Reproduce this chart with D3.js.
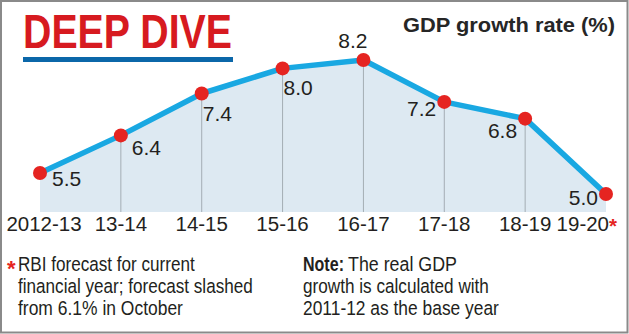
<!DOCTYPE html>
<html>
<head>
<meta charset="utf-8">
<script src="https://cdn.jsdelivr.net/npm/d3@7/dist/d3.min.js"></script>
<style>
  html, body { margin: 0; padding: 0; background: #fff; }
  svg { display: block; }
  text { font-family: "Liberation Sans", Arial, Helvetica, sans-serif; fill: #231f20; }
</style>
</head>
<body>
<svg id="chart" width="629" height="334"></svg>
<script>
// ---- data ----
const categories = ["2012-13", "13-14", "14-15", "15-16", "16-17", "17-18", "18-19", "19-20"];
const gdpGrowth = [5.5, 6.4, 7.4, 8.0, 8.2, 7.2, 6.8, 5.0];
const valueLabels = ["5.5", "6.4", "7.4", "8.0", "8.2", "7.2", "6.8", "5.0"];
const labelPlacement = ["below-right", "below-right", "below", "below", "above", "left", "below-left", "left"];
const forecastFlag = [false, false, false, false, false, false, false, true];
const titleText = "DEEP DIVE";
const subtitleText = "GDP growth rate (%)";
const footLeft = ["RBI forecast for current", "financial year; forecast slashed", "from 6.1% in October"];
const noteLabel = "Note:";
const footRight = ["The real GDP", "growth is calculated with", "2011-12 as the base year"];

// ---- layout ----
const W = 629, H = 334;
const svg = d3.select("#chart");
const plotBottom = 212;

const x = d3.scalePoint().domain(categories).range([40, 606]);
const y = d3.scaleLinear().domain([5.0, 8.2]).range([194, 60]);

const data = categories.map((c, i) => ({ c, v: gdpGrowth[i], label: valueLabels[i], pos: labelPlacement[i], star: forecastFlag[i], i }));

// frame
svg.append("rect").attr("x", 1).attr("y", 1).attr("width", W - 2.5).attr("height", H - 2.5)
  .attr("fill", "#fff").attr("stroke", "#8a8a8a").attr("stroke-width", 2);

// area
const area = d3.area().x(d => x(d.c)).y0(plotBottom).y1(d => y(d.v));
svg.append("path").datum(data).attr("d", area).attr("fill", "#dde9f2");

// vertical guide lines for interior points
svg.selectAll("line.grid").data(data.slice(1, -1)).join("line")
  .attr("class", "grid")
  .attr("x1", d => x(d.c)).attr("x2", d => x(d.c))
  .attr("y1", d => y(d.v)).attr("y2", plotBottom)
  .attr("stroke", "#a4adb4").attr("stroke-width", 1);

// line
const line = d3.line().x(d => x(d.c)).y(d => y(d.v));
svg.append("path").datum(data).attr("d", line)
  .attr("fill", "none").attr("stroke", "#19a8e2").attr("stroke-width", 5.5)
  .attr("stroke-linejoin", "round");

// dots
svg.selectAll("circle.dot").data(data).join("circle")
  .attr("class", "dot")
  .attr("cx", d => x(d.c)).attr("cy", d => y(d.v)).attr("r", 7)
  .attr("fill", "#e52421");

// value labels
const offsets = {
  "below-right": { dx: 11, dy: 20, anchor: "start" },
  "below": { dx: 1, dy: 27, anchor: "start" },
  "above": { dx: 4, dy: -12, anchor: "end" },
  "left": { dx: -8, dy: 14, anchor: "end" },
  "below-left": { dx: -8, dy: 19, anchor: "end" }
};
svg.selectAll("text.val").data(data).join("text")
  .attr("class", "val")
  .attr("x", d => x(d.c) + offsets[d.pos].dx + (d.i === 0 ? 1 : 0))
  .attr("y", d => y(d.v) + offsets[d.pos].dy - (d.i === 0 ? 7 : 0) + (d.i === 7 ? -3 : 0))
  .attr("text-anchor", d => offsets[d.pos].anchor)
  .attr("font-size", 21)
  .text(d => d.label);

// category axis labels
const axisLabels = svg.selectAll("text.cat").data(data).join("text")
  .attr("class", "cat")
  .attr("x", d => d.star ? x(d.c) + 11 : x(d.c) + (d.i === 0 ? 4 : 0))
  .attr("y", 231)
  .attr("text-anchor", d => d.star ? "end" : "middle")
  .attr("font-size", 20.5);
axisLabels.append("tspan").text(d => d.c);
axisLabels.filter(d => d.star).append("tspan")
  .style("fill", "#e52421").attr("font-weight", "bold").attr("dy", 2)
  .text("*");

// title
svg.append("text").attr("x", 23).attr("y", 48)
  .attr("font-size", 49).attr("font-weight", "bold")
  .style("fill", "#d71a20")
  .attr("textLength", 209).attr("lengthAdjust", "spacingAndGlyphs")
  .text(titleText);
svg.append("rect").attr("x", 23).attr("y", 57).attr("width", 210).attr("height", 5).attr("fill", "#0b67a9");

// subtitle
svg.append("text").attr("x", 615).attr("y", 32).attr("text-anchor", "end")
  .attr("font-size", 21).attr("font-weight", "bold").style("fill", "#262626")
  .attr("textLength", 212).attr("lengthAdjust", "spacingAndGlyphs")
  .text(subtitleText);

// footnotes: each line horizontally condensed to its measured width via a transform
const footSize = 19.5;
function fitLine(str, x0, yb, width, bold) {
  const t = svg.append("text").attr("x", 0).attr("y", 0)
    .attr("font-size", footSize).attr("font-weight", bold ? "bold" : null).text(str);
  const natural = t.node().getComputedTextLength();
  t.attr("transform", `translate(${x0},${yb}) scale(${width / natural},1)`);
  return t;
}
const footBaselines = [271, 293, 315];
const leftWidths = [177, 235, 165];
svg.append("text").attr("x", 7).attr("y", 276).attr("font-size", 22).attr("font-weight", "bold")
  .style("fill", "#e52421").text("*");
footLeft.forEach((t, i) => fitLine(t, 18, footBaselines[i], leftWidths[i], false));
fitLine(noteLabel, 303, footBaselines[0], 41, true);
const rightX = [348, 303, 303];
const rightWidths = [109, 186, 196];
footRight.forEach((t, i) => fitLine(t, rightX[i], footBaselines[i], rightWidths[i], false));
</script>
</body>
</html>
